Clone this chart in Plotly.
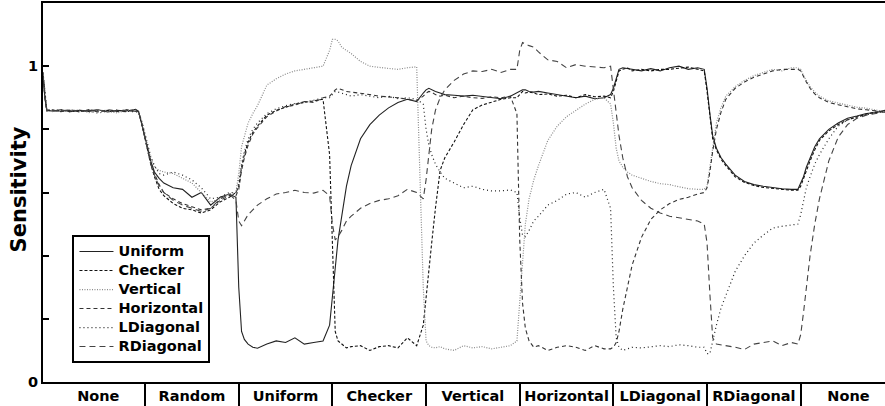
import plotly.graph_objects as go

# sample positions (time); segments of 100 units, one per adapting stimulus
x_grid = [-9, -7, -5, 0, 10, 20, 30, 40, 50, 60, 70, 80, 90, 93,
          97, 100, 103, 106, 110, 115, 120, 130, 140, 150, 160, 170, 180, 190,
          197, 200, 203, 206, 210, 215, 220, 230, 240, 250, 260, 270, 280, 290,
          297, 300, 303, 306, 310, 315, 320, 330, 340, 350, 360, 370, 380, 390,
          397, 400, 403, 406, 410, 415, 420, 430, 440, 450, 460, 470, 480, 490,
          497, 500, 503, 506, 510, 515, 520, 530, 540, 550, 560, 570, 580, 590,
          597, 600, 603, 606, 610, 615, 620, 630, 640, 650, 660, 670, 680, 690,
          697, 700, 703, 706, 710, 715, 720, 730, 740, 750, 760, 770, 780, 790,
          797, 800, 803, 806, 810, 815, 820, 830, 840, 850, 860, 870, 880, 890]

uniform = [0.98, 0.90, 0.862, 0.858, 0.862, 0.856, 0.860, 0.857, 0.862, 0.855, 0.860, 0.858, 0.863, 0.857,
           0.81, 0.775, 0.74, 0.70, 0.665, 0.645, 0.63, 0.615, 0.61, 0.585, 0.60, 0.56, 0.585, 0.595,
           0.585, 0.30, 0.16, 0.135, 0.12, 0.11, 0.107, 0.12, 0.13, 0.125, 0.14, 0.12, 0.125, 0.13,
           0.18, 0.28, 0.36, 0.45, 0.53, 0.62, 0.685, 0.77, 0.815, 0.845, 0.868, 0.885, 0.895, 0.888,
           0.915, 0.925, 0.93, 0.925, 0.92, 0.915, 0.91, 0.908, 0.905, 0.908, 0.905, 0.90, 0.897, 0.905,
           0.915, 0.92, 0.925, 0.925, 0.92, 0.918, 0.92, 0.915, 0.91, 0.903, 0.90, 0.905, 0.897, 0.90,
           0.91, 0.93, 0.96, 0.99, 0.995, 0.993, 0.99, 0.985, 0.992, 0.985, 0.995, 1.0, 0.99, 0.995,
           0.99, 0.93, 0.85, 0.78, 0.74, 0.71, 0.69, 0.655, 0.635, 0.625, 0.62, 0.615, 0.612, 0.61,
           0.61, 0.63, 0.65, 0.68, 0.71, 0.745, 0.77, 0.80, 0.82, 0.835, 0.842, 0.85, 0.853, 0.86]

checker = [0.97, 0.91, 0.860, 0.862, 0.857, 0.861, 0.855, 0.862, 0.858, 0.860, 0.856, 0.862, 0.858, 0.856,
           0.81, 0.77, 0.73, 0.69, 0.65, 0.61, 0.59, 0.565, 0.55, 0.545, 0.535, 0.545, 0.57, 0.585,
           0.60, 0.62, 0.68, 0.72, 0.76, 0.79, 0.81, 0.845, 0.86, 0.87, 0.88, 0.885, 0.89, 0.895,
           0.72, 0.45, 0.16, 0.13, 0.12, 0.108, 0.112, 0.115, 0.10, 0.112, 0.115, 0.108, 0.14, 0.115,
           0.18, 0.27, 0.37, 0.44, 0.55, 0.67, 0.71, 0.76, 0.815, 0.862, 0.877, 0.885, 0.895, 0.90,
           0.90, 0.91, 0.92, 0.915, 0.918, 0.915, 0.91, 0.912, 0.905, 0.908, 0.90, 0.91, 0.903, 0.905,
           0.90, 0.92, 0.955, 0.985, 0.99, 0.995, 0.985, 0.99, 0.985, 0.99, 0.99, 0.993, 0.997, 0.99,
           0.985, 0.92, 0.84, 0.77, 0.735, 0.705, 0.685, 0.65, 0.632, 0.622, 0.616, 0.614, 0.61, 0.607,
           0.607, 0.62, 0.645, 0.67, 0.70, 0.735, 0.765, 0.795, 0.815, 0.83, 0.84, 0.848, 0.855, 0.858]

vertical = [0.98, 0.92, 0.865, 0.856, 0.860, 0.858, 0.862, 0.853, 0.860, 0.857, 0.852, 0.860, 0.861, 0.855,
            0.82, 0.78, 0.745, 0.71, 0.68, 0.67, 0.665, 0.66, 0.645, 0.63, 0.60, 0.57, 0.58, 0.595,
            0.60, 0.66, 0.745, 0.78, 0.82, 0.85, 0.875, 0.94, 0.96, 0.975, 0.985, 0.99, 0.995, 1.0,
            1.05, 1.085, 1.085, 1.08, 1.06, 1.05, 1.04, 1.015, 1.0, 0.996, 0.993, 0.99, 0.995, 0.998,
            0.30, 0.13, 0.115, 0.11, 0.108, 0.112, 0.105, 0.10, 0.115, 0.108, 0.112, 0.105, 0.11, 0.115,
            0.13, 0.26, 0.40, 0.50, 0.58, 0.64, 0.685, 0.765, 0.81, 0.84, 0.86, 0.88, 0.895, 0.90,
            0.88, 0.82, 0.74, 0.70, 0.68, 0.665, 0.655, 0.645, 0.635, 0.628, 0.625, 0.618, 0.612, 0.61,
            0.61, 0.62, 0.68, 0.75, 0.82, 0.87, 0.905, 0.935, 0.955, 0.97, 0.98, 0.99, 0.985, 0.995,
            0.995, 0.99, 0.97, 0.955, 0.935, 0.918, 0.905, 0.89, 0.883, 0.875, 0.87, 0.867, 0.86, 0.855]

horizontal = [0.97, 0.90, 0.858, 0.861, 0.856, 0.860, 0.858, 0.861, 0.855, 0.862, 0.858, 0.856, 0.860, 0.857,
              0.81, 0.775, 0.735, 0.695, 0.66, 0.625, 0.60, 0.58, 0.565, 0.555, 0.545, 0.55, 0.575, 0.59,
              0.59, 0.61, 0.67, 0.71, 0.75, 0.785, 0.805, 0.84, 0.858, 0.872, 0.876, 0.888, 0.885, 0.90,
              0.905, 0.915, 0.925, 0.93, 0.925, 0.92, 0.918, 0.915, 0.91, 0.905, 0.903, 0.90, 0.895, 0.89,
              0.905, 0.915, 0.92, 0.918, 0.91, 0.905, 0.908, 0.90, 0.905, 0.90, 0.898, 0.903, 0.90, 0.905,
              0.85, 0.45, 0.25, 0.17, 0.13, 0.11, 0.115, 0.10, 0.11, 0.115, 0.11, 0.10, 0.115, 0.105,
              0.105, 0.11, 0.125, 0.16, 0.23, 0.30, 0.37, 0.458, 0.515, 0.545, 0.565, 0.578, 0.585, 0.595,
              0.60, 0.615, 0.665, 0.73, 0.80, 0.855, 0.895, 0.93, 0.95, 0.965, 0.975, 0.985, 0.99, 0.99,
              0.99, 0.985, 0.965, 0.95, 0.93, 0.912, 0.90, 0.885, 0.878, 0.872, 0.865, 0.862, 0.858, 0.855]

ldiagonal = [0.98, 0.91, 0.863, 0.857, 0.862, 0.855, 0.860, 0.858, 0.851, 0.858, 0.861, 0.857, 0.856, 0.855,
             0.82, 0.785, 0.75, 0.715, 0.685, 0.66, 0.655, 0.665, 0.655, 0.64, 0.615, 0.58, 0.585, 0.60,
             0.60, 0.63, 0.69, 0.73, 0.77, 0.80, 0.82, 0.85, 0.865, 0.875, 0.882, 0.886, 0.892, 0.90,
             0.90, 0.91, 0.92, 0.918, 0.915, 0.91, 0.905, 0.91, 0.905, 0.90, 0.905, 0.897, 0.90, 0.895,
             0.88, 0.80, 0.75, 0.72, 0.69, 0.665, 0.645, 0.63, 0.615, 0.62, 0.61, 0.605, 0.605, 0.608,
             0.60, 0.52, 0.465, 0.46, 0.48, 0.51, 0.525, 0.56, 0.575, 0.595, 0.60, 0.585, 0.60, 0.61,
             0.55, 0.30, 0.14, 0.11, 0.10, 0.105, 0.11, 0.108, 0.112, 0.115, 0.112, 0.118, 0.115, 0.11,
             0.11, 0.09, 0.09, 0.13, 0.18, 0.235, 0.275, 0.35, 0.40, 0.44, 0.465, 0.487, 0.493, 0.498,
             0.50, 0.53, 0.575, 0.615, 0.65, 0.69, 0.72, 0.77, 0.81, 0.83, 0.84, 0.847, 0.852, 0.855]

rdiagonal = [0.97, 0.90, 0.860, 0.859, 0.858, 0.862, 0.857, 0.859, 0.862, 0.856, 0.859, 0.861, 0.857, 0.858,
             0.81, 0.77, 0.73, 0.69, 0.655, 0.62, 0.60, 0.575, 0.56, 0.55, 0.54, 0.55, 0.58, 0.595,
             0.575, 0.51, 0.495, 0.51, 0.53, 0.545, 0.56, 0.58, 0.595, 0.60, 0.607, 0.60, 0.598, 0.607,
             0.59, 0.50, 0.45, 0.46, 0.48, 0.51, 0.525, 0.55, 0.565, 0.575, 0.58, 0.59, 0.61, 0.60,
             0.58, 0.64, 0.72, 0.80, 0.86, 0.90, 0.925, 0.955, 0.975, 0.985, 0.983, 0.99, 0.98, 0.99,
             0.99, 1.05, 1.075, 1.07, 1.065, 1.06, 1.045, 1.02, 1.015, 0.995, 1.005, 1.0, 0.998, 0.995,
             1.0, 0.93, 0.85, 0.78, 0.71, 0.65, 0.615, 0.575, 0.55, 0.535, 0.525, 0.52, 0.515, 0.51,
             0.50, 0.44, 0.28, 0.14, 0.12, 0.118, 0.115, 0.11, 0.103, 0.12, 0.125, 0.13, 0.115, 0.125,
             0.12, 0.15, 0.22, 0.30, 0.40, 0.50, 0.58, 0.70, 0.775, 0.815, 0.835, 0.845, 0.85, 0.855]

series_names = ["Uniform", "Checker", "Vertical", "Horizontal", "LDiagonal", "RDiagonal"]
segment_labels = ["None", "Random", "Uniform", "Checker", "Vertical", "Horizontal",
                  "LDiagonal", "RDiagonal", "None"]
segment_centers = [50, 150, 250, 350, 450, 550, 650, 750, 851]
segment_bounds = [100, 200, 300, 400, 500, 600, 700, 800]
y_tick_vals = [0, 0.2, 0.4, 0.6, 0.8, 1.0]
y_tick_text = ["0", "", "", "", "", "1"]

styles = [
    dict(color="#222222", width=1.1, dash="solid"),
    dict(color="#111111", width=1.1, dash="3px,2px"),
    dict(color="#8a8a8a", width=1.2, dash="1px,1.5px"),
    dict(color="#333333", width=1.1, dash="4px,3px"),
    dict(color="#222222", width=1.2, dash="1px,3px"),
    dict(color="#444444", width=1.1, dash="6px,4px"),
]

FONT = "DejaVu Sans"
fig = go.Figure()
for name, ys, st in zip(series_names,
                        [uniform, checker, vertical, horizontal, ldiagonal, rdiagonal],
                        styles):
    fig.add_trace(go.Scatter(x=x_grid, y=ys, mode="lines",
                             name="<span style='font-size:14.5px'>" + name + "</span>",
                             line=st))

fig.update_layout(
    width=885, height=406,
    margin=dict(l=43, r=0, t=3, b=24, autoexpand=False),
    paper_bgcolor="white", plot_bgcolor="white",
    showlegend=True,
    legend=dict(x=0.035, y=0.05, xanchor="left", yanchor="bottom",
                bgcolor="white", bordercolor="black", borderwidth=2,
                font=dict(family=FONT, size=12.2, color="black", weight="bold"),
                tracegroupgap=0, itemwidth=34),
    xaxis=dict(range=[-9, 890], showline=True, linecolor="black", linewidth=2, mirror=True,
               showgrid=False, zeroline=False, automargin=False,
               tickmode="array", tickvals=segment_centers, ticktext=segment_labels, ticks="",
               tickfont=dict(family=FONT, size=14.5, color="black", weight="bold"),
               minor=dict(tickmode="array", tickvals=segment_bounds, ticks="outside",
                          ticklen=22, tickwidth=2, tickcolor="black", showgrid=False)),
    yaxis=dict(range=[0, 1.2], showline=True, linecolor="black", linewidth=2,
               showgrid=False, zeroline=False, automargin=False,
               tickmode="array", tickvals=y_tick_vals, ticktext=y_tick_text,
               ticks="inside", ticklen=6, tickwidth=2, tickcolor="black",
               tickfont=dict(family=FONT, size=14.5, color="black", weight="bold")),
    annotations=[dict(text="Sensitivity", xref="paper", yref="paper", x=-0.029, y=0.507,
                      textangle=-90, showarrow=False, xanchor="center", yanchor="middle",
                      font=dict(family=FONT, size=21, color="black", weight="bold"))],
)

fig.write_html("out.html", config={"displayModeBar": False},
               post_script="document.body.style.margin='0';document.body.style.padding='0';")
